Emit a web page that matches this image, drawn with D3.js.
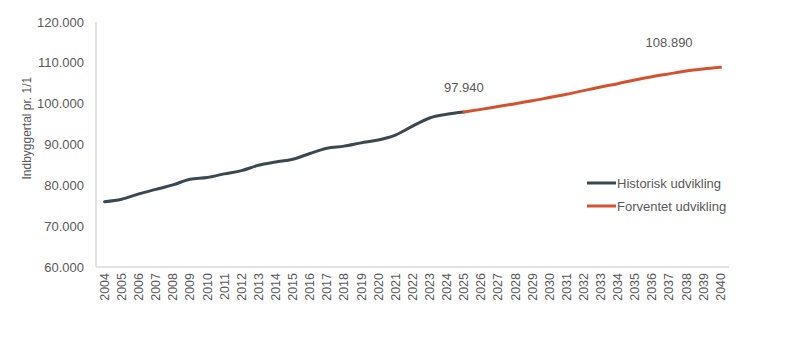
<!DOCTYPE html>
<html><head><meta charset="utf-8">
<script src="https://cdn.jsdelivr.net/npm/d3@7"></script>
<style>body{margin:0;background:#fff;font-family:"Liberation Sans",Arial,sans-serif}</style>
</head><body><svg id="c" width="788" height="359"></svg>
<script>
const years = d3.range(2004, 2041).map(String);
const historicYears = ["2004","2005","2006","2007","2008","2009","2010","2011","2012","2013","2014","2015","2016","2017","2018","2019","2020","2021","2022","2023","2024","2025"];
const historicValues = [76000,76600,77900,79000,80100,81500,81900,82800,83600,84900,85700,86400,87800,89100,89600,90400,91100,92300,94500,96500,97400,97940];
const forecastYears = ["2025","2026","2027","2028","2029","2030","2031","2032","2033","2034","2035","2036","2037","2038","2039","2040"];
const forecastValues = [97940,98600,99300,100000,100700,101500,102300,103200,104100,104900,105800,106600,107300,108000,108500,108890];
const yTicks = [60000,70000,80000,90000,100000,110000,120000];
const seriesNames = ["Historisk udvikling","Forventet udvikling"];
const seriesColors = ["#3b4850","#d4532e"];
const annotations = [{year:"2025", value:97940, at:"2025"},{year:"2040", value:108890, at:"2037"}];

const svg = d3.select("#c");
const m = {l:96, r:59, t:22, b:92};
const W = 788, H = 359;
const x = d3.scaleBand().domain(years).range([m.l, W - m.r]);
const y = d3.scaleLinear().domain([60000,120000]).range([H - m.b, m.t]);
const fmt = v => d3.format(",")(v).replace(/,/g, ".");
const textCol = "#595959";

svg.append("line").attr("x1", m.l).attr("x2", m.l).attr("y1", y(120000)).attr("y2", y(60000)).attr("stroke","#d9d9d9").attr("stroke-width",1.5);
svg.append("line").attr("x1", m.l).attr("x2", W - m.r).attr("y1", y(60000)).attr("y2", y(60000)).attr("stroke","#d9d9d9").attr("stroke-width",1.5);

svg.append("g").selectAll("text").data(yTicks).join("text")
  .attr("x", m.l - 12).attr("y", d => y(d)).attr("dy","0.35em")
  .attr("text-anchor","end").attr("font-size",13).attr("fill",textCol).text(fmt);

svg.append("g").selectAll("text").data(years).join("text")
  .attr("transform", d => `translate(${x(d)+x.bandwidth()/2},${y(60000)+6}) rotate(-90)`)
  .attr("dy","0.35em").attr("text-anchor","end").attr("font-size",12.5).attr("fill",textCol).text(d=>d);

svg.append("text").attr("transform", `translate(31,${y(94000)}) rotate(-90)`)
  .attr("text-anchor","middle").attr("font-size",12).attr("fill",textCol).text("Indbyggertal pr. 1/1");

const line = d3.line().x(d => x(d[0]) + x.bandwidth()/2).y(d => y(d[1])).curve(d3.curveMonotoneX);
svg.append("path").datum(historicYears.map((d,i)=>[d,historicValues[i]]))
  .attr("d", line).attr("fill","none").attr("stroke",seriesColors[0]).attr("stroke-width",3).attr("stroke-linecap","round");
svg.append("path").datum(forecastYears.map((d,i)=>[d,forecastValues[i]]))
  .attr("d", line).attr("fill","none").attr("stroke",seriesColors[1]).attr("stroke-width",3).attr("stroke-linecap","round");

svg.append("g").selectAll("text").data(annotations).join("text")
  .attr("x", d => x(d.at) + x.bandwidth()/2).attr("y", d => y(d.value) - 20)
  .attr("text-anchor","middle").attr("font-size",13).attr("fill",textCol).text(d => fmt(d.value));

const lg = svg.append("g").attr("transform","translate(587,183)");
seriesNames.forEach((n,i) => {
  lg.append("line").attr("x1",0).attr("x2",29).attr("y1",i*23).attr("y2",i*23).attr("stroke",seriesColors[i]).attr("stroke-width",3);
  lg.append("text").attr("x",30).attr("y",i*23).attr("dy","0.35em").attr("font-size",13).attr("fill",textCol).text(n);
});
</script></body></html>
